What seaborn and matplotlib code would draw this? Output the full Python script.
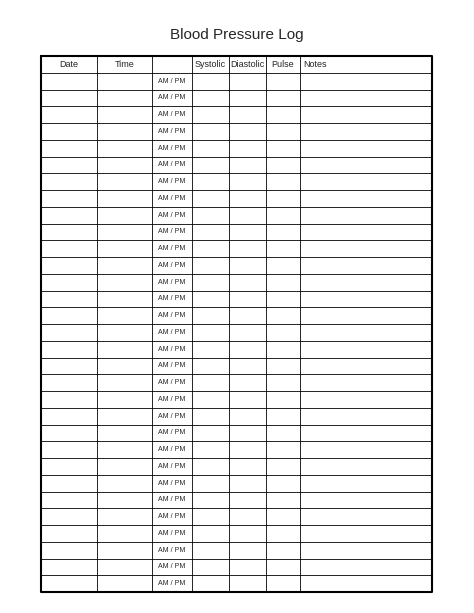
import matplotlib
matplotlib.use("Agg")
import matplotlib.pyplot as plt
import seaborn as sns
import numpy as np

title = "Blood Pressure Log"
headers = ["Date", "Time", "", "Systolic", "Diastolic", "Pulse", "Notes"]
n_rows = 31
ampm_label = "AM / PM"

sns.set_style("white")
plt.rcParams['font.family'] = ['Liberation Sans', 'DejaVu Sans']

W, H = 474, 613
fig = plt.figure(figsize=(W/100, H/100), dpi=100)
ax = fig.add_axes([0, 0, 1, 1])
ax.set_xlim(0, W)
ax.set_ylim(H, 0)
ax.axis("off")

col_edges = [41, 97, 152, 192, 229, 266, 300, 432]
top, bottom = 56, 592
row_h = (bottom - top) / (n_rows + 1)
row_edges = [top + i * row_h for i in range(n_rows + 2)]

ax.text(237, 35, title, ha="center", va="center", fontsize=11)

for y in row_edges[1:-1]:
    ax.plot([col_edges[0], col_edges[-1]], [y, y], color="black", lw=0.6)
for x in col_edges[1:-1]:
    ax.plot([x, x], [top, bottom], color="black", lw=0.6)
ax.plot([col_edges[0], col_edges[-1], col_edges[-1], col_edges[0], col_edges[0]],
        [top, top, bottom, bottom, top], color="black", lw=1.5)

for i, h in enumerate(headers):
    if not h:
        continue
    x0, x1 = col_edges[i], col_edges[i + 1]
    if h == "Notes":
        ax.text(x0 + 3, top + row_h / 2, h, ha="left", va="center", fontsize=6.5)
    else:
        ax.text((x0 + x1) / 2, top + row_h / 2, h, ha="center", va="center", fontsize=6.5)

for r in range(n_rows):
    yc = row_edges[r + 1] + row_h / 2
    ax.text((col_edges[2] + col_edges[3]) / 2, yc, ampm_label, ha="center", va="center", fontsize=5)

fig.savefig("out.png", dpi=100)
